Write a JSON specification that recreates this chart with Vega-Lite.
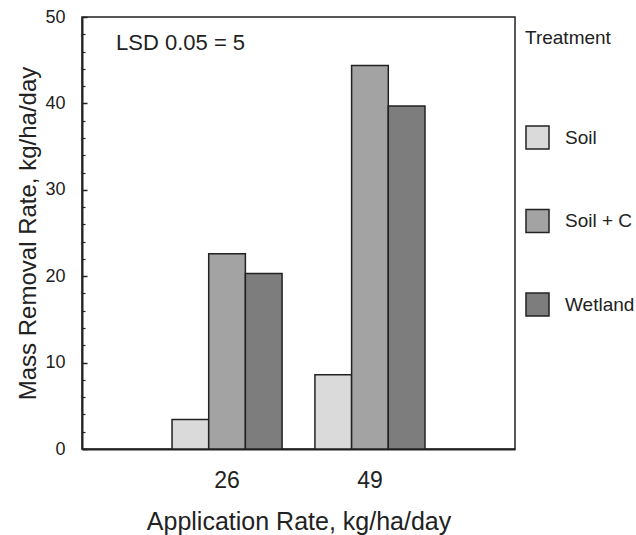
{
  "$schema": "https://vega.github.io/schema/vega-lite/v6.json",
  "autosize": {"type": "none"},
  "padding": {"left": 82, "top": 17, "right": 121, "bottom": 86},
  "width": 433,
  "height": 432,
  "background": "white",
  "config": {
    "font": "Liberation Sans",
    "view": {"stroke": "#222", "strokeWidth": 1.5},
    "axis": {"labelColor": "#222", "titleColor": "#222", "domainColor": "#222", "tickColor": "#222"}
  },
  "datasets": {
    "bars": [
      {"rate": "26", "treatment": "Soil", "removal": 3.4},
      {"rate": "26", "treatment": "Soil + C", "removal": 22.6},
      {"rate": "26", "treatment": "Wetland", "removal": 20.3},
      {"rate": "49", "treatment": "Soil", "removal": 8.6},
      {"rate": "49", "treatment": "Soil + C", "removal": 44.4},
      {"rate": "49", "treatment": "Wetland", "removal": 39.7}
    ],
    "note": [{"rate": "26", "y": 47, "label": "LSD 0.05 = 5"}]
  },
  "layer": [
    {
      "data": {"name": "bars"},
      "mark": {"type": "bar", "stroke": "#222", "strokeWidth": 1.5},
      "encoding": {
        "x": {
          "field": "rate", "type": "nominal",
          "scale": {"paddingInner": 0.23, "paddingOuter": 0.63},
          "axis": {
            "title": "Application Rate, kg/ha/day",
            "labelAngle": 0, "ticks": false, "grid": false, "domainWidth": 2,
            "labelFontSize": 23, "labelPadding": 20,
            "titleFontSize": 25, "titleFontWeight": "normal", "titlePadding": 17
          }
        },
        "xOffset": {
          "field": "treatment", "type": "nominal",
          "scale": {"paddingInner": 0, "paddingOuter": 0}
        },
        "y": {
          "field": "removal", "type": "quantitative",
          "scale": {"domain": [0, 50], "nice": false},
          "axis": {
            "orient": "left",
            "title": "Mass Removal Rate, kg/ha/day",
            "values": [0, 2, 4, 6, 8, 10, 12, 14, 16, 18, 20, 22, 24, 26, 28, 30, 32, 34, 36, 38, 40, 42, 44, 46, 48, 50],
            "tickCount": 30,
            "labelExpr": "datum.value % 10 === 0 ? datum.label : ''",
            "labelOverlap": false, "labelBound": false,
            "ticks": false, "domainWidth": 2,
            "grid": true, "gridColor": "#222",
            "gridWidth": {"condition": {"test": "datum.value % 10 === 0", "value": 1.5}, "value": 1.2},
            "gridDash": {"condition": {"test": "datum.value % 10 === 0", "value": [5, 1000]}, "value": [3, 1000]},
            "labelFontSize": 18, "labelPadding": 17,
            "titleFontSize": 24, "titleFontWeight": "normal", "titlePadding": 4
          }
        },
        "fill": {
          "field": "treatment", "type": "nominal",
          "scale": {"domain": ["Soil", "Soil + C", "Wetland"], "range": ["#dadada", "#a3a3a3", "#7d7d7d"]},
          "legend": {
            "title": "Treatment",
            "orient": "none", "legendX": 443, "legendY": 12,
            "titleFontSize": 19, "titleFontWeight": "normal", "titleColor": "#222", "titlePadding": 77,
            "labelFontSize": 19, "labelColor": "#222", "labelOffset": 15,
            "symbolType": "square", "symbolSize": 530, "symbolStrokeColor": "#222", "symbolStrokeWidth": 1.5,
            "rowPadding": 52.5
          }
        }
      }
    },
    {
      "data": {"name": "note"},
      "mark": {"type": "text", "align": "left", "baseline": "middle", "fontSize": 22, "dx": -111, "color": "#222"},
      "encoding": {
        "x": {"field": "rate", "type": "nominal"},
        "y": {"field": "y", "type": "quantitative"},
        "text": {"field": "label"}
      }
    }
  ]
}
